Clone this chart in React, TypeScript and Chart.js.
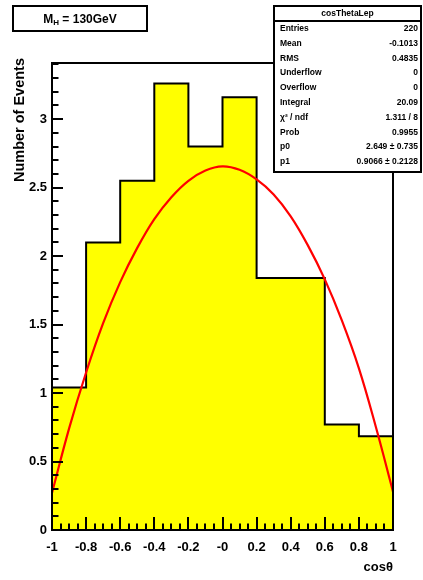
import React, { useEffect, useRef } from "react";
import { Chart, registerables } from "chart.js";

Chart.register(...registerables);

// Histogram: cos(theta) distribution, 10 bins between -1 and 1
const binEdges = [-1, -0.8, -0.6, -0.4, -0.2, 0, 0.2, 0.4, 0.6, 0.8, 1];
const binValues = [1.04, 2.1, 2.55, 3.26, 2.8, 3.16, 1.84, 1.84, 0.77, 0.685];

// Fitted curve, sampled along cos(theta)
const fitX = [-1, -0.9, -0.8, -0.7, -0.6, -0.5, -0.4, -0.3, -0.2, -0.1, 0, 0.1, 0.2, 0.3, 0.4, 0.5, 0.6, 0.7, 0.8, 0.9, 1];
const fitY = [0.27, 0.74, 1.15, 1.51, 1.81, 2.06, 2.27, 2.43, 2.55, 2.625, 2.655, 2.63, 2.56, 2.45, 2.29, 2.08, 1.83, 1.53, 1.18, 0.75, 0.28];

// Axis ticks
const xTickValues = [-1, -0.8, -0.6, -0.4, -0.2, 0, 0.2, 0.4, 0.6, 0.8, 1];
const xTickLabels = ["-1", "-0.8", "-0.6", "-0.4", "-0.2", "-0", "0.2", "0.4", "0.6", "0.8", "1"];
const yTickValues = [0, 0.5, 1, 1.5, 2, 2.5, 3];
const yTickLabels = ["0", "0.5", "1", "1.5", "2", "2.5", "3"];

// Statistics panel
const statsTitle = "cosThetaLep";
const statsLabels = ["Entries", "Mean", "RMS", "Underflow", "Overflow", "Integral", "\u03c7\u00b2 / ndf", "Prob", "p0", "p1"];
const statsValues = ["220", "-0.1013", "0.4835", "0", "0", "20.09", "1.311 / 8", "0.9955", "2.649 \u00b1 0.735", "0.9066 \u00b1 0.2128"];

const X_MIN = -1;
const X_MAX = 1;
const Y_MAX = 3.41;
const FONT = "'Liberation Sans', Arial, sans-serif";

const rootStylePlugin = {
  id: "rootStyle",
  afterDatasetsDraw(chart: any) {
    const { ctx, chartArea, scales } = chart;
    const xs = scales.x;
    const ys = scales.y;
    const { left, right, top, bottom } = chartArea;
    ctx.save();
    ctx.strokeStyle = "#000";
    ctx.fillStyle = "#000";

    // frame
    ctx.lineWidth = 2;
    ctx.strokeRect(left, top, right - left, bottom - top);

    // x ticks (inside, on the bottom edge)
    for (let i = 0; i <= 40; i++) {
      const v = X_MIN + i * 0.05;
      const px = Math.round(xs.getPixelForValue(v));
      const len = i % 4 === 0 ? 13 : 6.5;
      ctx.beginPath();
      ctx.moveTo(px, bottom);
      ctx.lineTo(px, bottom - len);
      ctx.stroke();
    }
    // y ticks (inside, on the left edge)
    for (let i = 0; i <= 34; i++) {
      const v = i * 0.1;
      const py = Math.round(ys.getPixelForValue(v));
      const len = i % 5 === 0 ? 11 : 6.5;
      ctx.beginPath();
      ctx.moveTo(left, py);
      ctx.lineTo(left + len, py);
      ctx.stroke();
    }

    // tick labels
    ctx.font = `bold 13px ${FONT}`;
    ctx.textAlign = "center";
    ctx.textBaseline = "middle";
    xTickValues.forEach((v, i) => {
      ctx.fillText(xTickLabels[i], xs.getPixelForValue(v), bottom + 17);
    });
    ctx.textAlign = "right";
    yTickValues.forEach((v, i) => {
      ctx.fillText(yTickLabels[i], left - 5, ys.getPixelForValue(v));
    });

    // axis titles
    ctx.font = `bold 13px ${FONT}`;
    ctx.textAlign = "right";
    ctx.textBaseline = "middle";
    ctx.fillText("cos\u03b8", right, bottom + 37);

    ctx.save();
    ctx.translate(20, top - 5);
    ctx.rotate(-Math.PI / 2);
    ctx.font = `bold 14.5px ${FONT}`;
    ctx.textAlign = "right";
    ctx.textBaseline = "middle";
    ctx.fillText("Number of Events", 0, 0);
    ctx.restore();

    ctx.restore();
  },
  afterDraw(chart: any) {
    const { ctx } = chart;
    ctx.save();

    // mass label box
    ctx.fillStyle = "#fff";
    ctx.fillRect(13, 6, 134, 25);
    ctx.strokeStyle = "#000";
    ctx.lineWidth = 2;
    ctx.strokeRect(13, 6, 134, 25);
    ctx.fillStyle = "#000";
    ctx.textBaseline = "alphabetic";
    ctx.textAlign = "left";
    const big = `bold 12px ${FONT}`;
    const small = `bold 8px ${FONT}`;
    ctx.font = big;
    const wM = ctx.measureText("M").width;
    const wRest = ctx.measureText(" = 130GeV").width;
    ctx.font = small;
    const wH = ctx.measureText("H").width;
    let x = 80 - (wM + wH + wRest) / 2;
    ctx.font = big;
    ctx.fillText("M", x, 22.5);
    x += wM;
    ctx.font = small;
    ctx.fillText("H", x, 25);
    x += wH;
    ctx.font = big;
    ctx.fillText(" = 130GeV", x, 22.5);

    // statistics box
    const bx = 274, by = 6, bw = 147, bh = 166;
    ctx.fillStyle = "#fff";
    ctx.fillRect(bx, by, bw, bh);
    ctx.strokeStyle = "#000";
    ctx.lineWidth = 2;
    ctx.strokeRect(bx, by, bw, bh);
    ctx.beginPath();
    ctx.moveTo(bx, 21);
    ctx.lineTo(bx + bw, 21);
    ctx.stroke();
    ctx.fillStyle = "#000";
    ctx.font = `bold 8.5px ${FONT}`;
    ctx.textBaseline = "middle";
    ctx.textAlign = "center";
    ctx.fillText(statsTitle, bx + bw / 2, 13.5);
    statsLabels.forEach((lab, i) => {
      const yy = 28.7 + i * 14.8;
      ctx.textAlign = "left";
      ctx.fillText(lab, 280, yy);
      ctx.textAlign = "right";
      ctx.fillText(statsValues[i], 418, yy);
    });

    ctx.restore();
  },
};

export default function App() {
  const canvasRef = useRef<HTMLCanvasElement | null>(null);

  useEffect(() => {
    if (!canvasRef.current) return;

    const histPoints: { x: number; y: number }[] = [{ x: binEdges[0], y: 0 }];
    binValues.forEach((v, i) => histPoints.push({ x: binEdges[i], y: v }));
    histPoints.push({ x: binEdges[binEdges.length - 1], y: binValues[binValues.length - 1] });
    histPoints.push({ x: binEdges[binEdges.length - 1], y: 0 });

    const fitPoints = fitX.map((xv, i) => ({ x: xv, y: fitY[i] }));

    const chart = new Chart(canvasRef.current, {
      type: "line",
      data: {
        datasets: [
          {
            label: "fit",
            data: fitPoints,
            borderColor: "#ff0000",
            borderWidth: 2.2,
            pointRadius: 0,
            fill: false,
            tension: 0.4,
            order: 0,
          },
          {
            label: "histogram",
            data: histPoints,
            borderColor: "#000",
            borderWidth: 2,
            backgroundColor: "#ffff00",
            pointRadius: 0,
            stepped: true,
            fill: "origin",
            tension: 0,
            order: 1,
          },
        ],
      },
      options: {
        animation: false,
        responsive: false,
        devicePixelRatio: 1,
        layout: { padding: { left: 52, right: 30, top: 63, bottom: 50 } },
        plugins: {
          legend: { display: false },
          tooltip: { enabled: false },
          title: { display: false },
        },
        scales: {
          x: { type: "linear", min: X_MIN, max: X_MAX, display: false },
          y: { type: "linear", min: 0, max: Y_MAX, display: false },
        },
      },
      plugins: [rootStylePlugin],
    });

    return () => chart.destroy();
  }, []);

  return (
    <div style={{ position: "fixed", left: 0, top: 0, width: 423, height: 580, background: "#fff" }}>
      <canvas ref={canvasRef} width={423} height={580} />
    </div>
  );
}
